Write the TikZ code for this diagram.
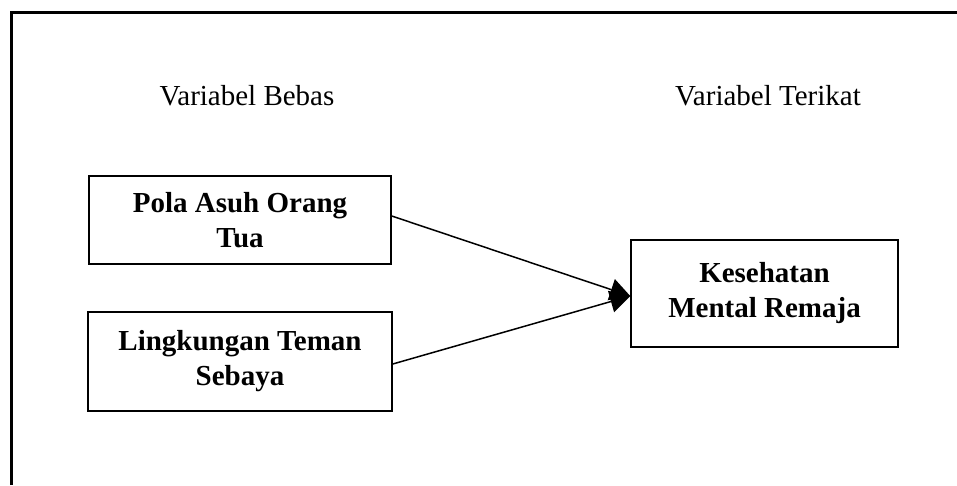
\documentclass[tikz,border=0pt]{standalone}
\usepackage{fontspec}
\setmainfont{Liberation Serif}
\usetikzlibrary{arrows.meta}
\tikzset{
    kotak/.style={draw, line width=1.5pt, align=center, inner sep=0pt,
        font=\fontsize{29}{35}\selectfont\bfseries},
    judul/.style={font=\fontsize{29}{35}\selectfont},
    panah/.style={line width=1.5pt, -{Triangle[length=20pt,width=22pt]}}
}
\begin{document}
\begin{tikzpicture}[x=1pt,y=-1pt]
    \useasboundingbox (0,0) rectangle (957,485);
    \draw[line width=3pt] (11,485)--(11,12)--(957,12);
    \node[judul] (bebas) at (247,96) {Variabel Bebas};
    \node[judul] (terikat) at (768,96) {Variabel Terikat};
    \node[kotak, minimum width=302pt, minimum height=88pt] (pola) at (240,220) {Pola Asuh Orang\\Tua};
    \node[kotak, minimum width=304pt, minimum height=99pt] (teman) at (240,361.5) {Lingkungan Teman\\Sebaya};
    \node[kotak, minimum width=267pt, minimum height=107pt] (sehat) at (764.5,293.5) {Kesehatan\\Mental Remaja};
    \draw[panah] ([yshift=4pt]pola.east)--([yshift=-2.5pt]sehat.west);
    \draw[panah] ([yshift=-2.5pt]teman.east)--([yshift=-2.5pt]sehat.west);
\end{tikzpicture}
\end{document}
